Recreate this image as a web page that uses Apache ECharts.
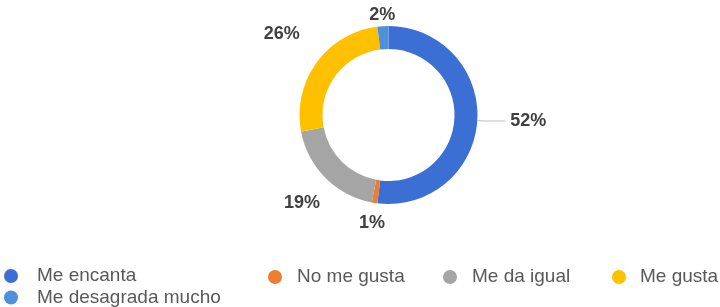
<!DOCTYPE html>
<html>
<head>
<meta charset="utf-8">
<script src="https://cdn.jsdelivr.net/npm/echarts@6/dist/echarts.min.js"></script>
<style>
html,body{margin:0;padding:0;background:#fff;}
#c{width:720px;height:307px;}
</style>
</head>
<body>
<div id="c"></div>
<script>
// Data
const categories = ['Me encanta', 'No me gusta', 'Me da igual', 'Me gusta', 'Me desagrada mucho'];
const values = [52, 1, 19, 26, 2];
const colors = ['#3C6FD3', '#ED7D31', '#A5A5A5', '#FFC000', '#4E90DC'];

// Per-slice label placement (style only)
const labelPlacement = [
  { len: 6, len2: 22, dist: 5, showLine: true },
  { len: 20, len2: 0, dist: -13.5, showLine: false },
  { len: 35.5, len2: 0, dist: -19.5, showLine: false },
  { len: 49, len2: 0, dist: -23, showLine: false },
  { len: 11, len2: 0, dist: -13, showLine: false }
];

const chart = echarts.init(document.getElementById('c'), null, { renderer: 'canvas' });

const pieData = categories.map((name, i) => ({
  name: name,
  value: values[i],
  itemStyle: { color: colors[i] },
  label: { distanceToLabelLine: labelPlacement[i].dist },
  labelLine: {
    show: labelPlacement[i].showLine,
    length: labelPlacement[i].len,
    length2: labelPlacement[i].len2,
    lineStyle: { color: '#BFBFBF', width: 1 }
  }
}));

const legendPos = [
  { name: 'Me encanta', left: 4, top: 266.5, pad: 14 },
  { name: 'No me gusta', left: 268, top: 267.5, pad: 10 },
  { name: 'Me da igual', left: 443, top: 267.5, pad: 10 },
  { name: 'Me gusta', left: 612, top: 267.5, pad: 9 },
  { name: 'Me desagrada mucho', left: 4, top: 288, pad: 14 }
];

const legends = legendPos.map(p => ({
  data: [p.name],
  left: p.left,
  top: p.top,
  padding: 0,
  orient: 'horizontal',
  icon: 'circle',
  itemWidth: 14,
  itemHeight: 14,
  selectedMode: false,
  textStyle: {
    color: '#595959',
    fontSize: 19,
    fontFamily: 'Liberation Sans, Arial, sans-serif',
    padding: [0, 0, 0, p.pad]
  }
}));

chart.setOption({
  animation: false,
  backgroundColor: '#ffffff',
  legend: legends,
  series: [{
    type: 'pie',
    center: [388.5, 115],
    radius: [66, 89],
    startAngle: 90,
    clockwise: true,
    avoidLabelOverlap: false,
    silent: true,
    label: {
      show: true,
      position: 'outside',
      formatter: '{c}%',
      color: '#404040',
      fontSize: 18,
      fontWeight: 'bold',
      fontFamily: 'Liberation Sans, Arial, sans-serif'
    },
    itemStyle: { borderWidth: 0 },
    data: pieData
  }]
});
</script>
</body>
</html>
